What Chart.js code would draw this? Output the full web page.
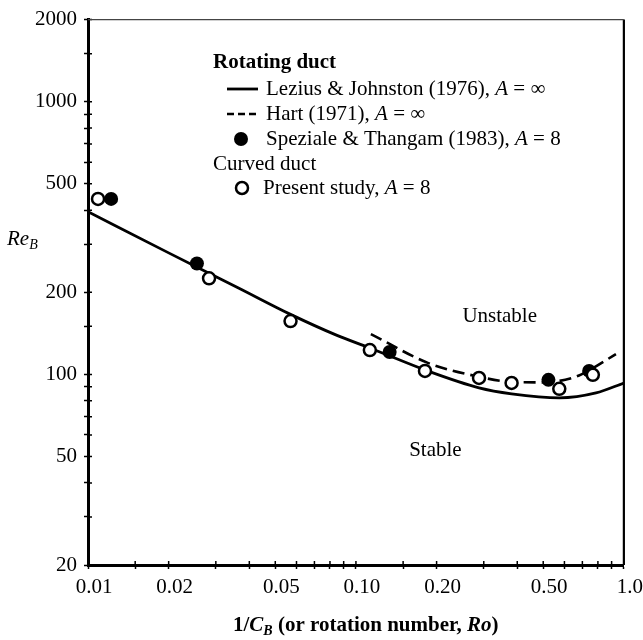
<!DOCTYPE html>
<html>
<head>
<meta charset="utf-8">
<script src="https://cdn.jsdelivr.net/npm/chart.js@4.4.0/dist/chart.umd.min.js"></script>
<style>
  html, body { margin: 0; padding: 0; background: #fff; }
  canvas { display: block; }
</style>
</head>
<body>
<canvas id="stability" width="643" height="640"></canvas>
<script>
'use strict';

// Lezius & Johnston (1976), A = inf  (solid curve)
const leziusRo = [0.01, 0.02, 0.0366, 0.057, 0.085, 0.1127, 0.185, 0.288, 0.381, 0.574, 0.787, 1.0];
const leziusRe = [395, 279, 207, 166, 139, 125, 103, 89.3, 84.9, 82, 85.5, 93];

// Hart (1971), A = inf  (dashed curve)
const hartRo = [0.1137, 0.1864, 0.288, 0.375, 0.5, 0.65, 0.735, 0.934];
const hartRe = [140.6, 110, 98, 94, 93.5, 97.5, 103, 118.7];

// Speziale & Thangam (1983), A = 8  (filled circles)
const spezialeRo = [0.0122, 0.0255, 0.1336, 0.523, 0.742];
const spezialeRe = [440, 255, 120.8, 95.5, 103];

// present study, curved duct, A = 8  (open circles)
const presentRo = [0.0109, 0.0283, 0.057, 0.1127, 0.181, 0.288, 0.381, 0.574, 0.766];
const presentRe = [440, 225, 156.8, 122.8, 103, 97, 93, 88.5, 99.6];

// axis ticks, '' = unlabelled tick
const xTicks = [0.01, 0.015, 0.02, 0.03, 0.04, 0.05, 0.06, 0.07, 0.08, 0.09,
                0.1, 0.15, 0.2, 0.3, 0.4, 0.5, 0.6, 0.7, 0.8, 0.9, 1.0];
const xTickLabels = ['0.01', '', '0.02', '', '', '0.05', '', '', '', '',
                     '0.10', '', '0.20', '', '', '0.50', '', '', '', '', '1.0'];
const yTicks = [20, 30, 40, 50, 60, 70, 80, 90, 100, 150, 200, 300, 400, 500,
                600, 700, 800, 900, 1000, 1500, 2000];
const yTickLabels = ['20', '', '', '50', '', '', '', '', '100', '', '200', '', '', '500',
                     '', '', '', '', '1000', '', '2000'];

const SERIF = '"Liberation Serif", "DejaVu Serif", serif';

function pairs(xs, ys) {
  return xs.map((v, i) => ({ x: v, y: ys[i] }));
}

// draws a line of text made of several font runs
function drawRuns(ctx, x, y, runs) {
  runs.forEach(r => {
    ctx.font = r.font;
    ctx.fillText(r.text, x, y + (r.dy || 0));
    x += ctx.measureText(r.text).width;
  });
  return x;
}

const decorations = {
  id: 'decorations',
  afterDraw(chart) {
    const ctx = chart.ctx;
    const a = chart.chartArea;
    const xs = chart.scales.x;
    const ys = chart.scales.y;
    const ds = chart.data.datasets;
    ctx.save();
    ctx.strokeStyle = '#000';
    ctx.fillStyle = '#000';

    // inner half of the tick marks, so they cross the axes
    ctx.lineWidth = 1.5;
    ctx.beginPath();
    xs.ticks.forEach(t => {
      const px = xs.getPixelForValue(t.value);
      ctx.moveTo(px, a.bottom);
      ctx.lineTo(px, a.bottom - 4);
    });
    ys.ticks.forEach(t => {
      const py = ys.getPixelForValue(t.value);
      ctx.moveTo(a.left, py);
      ctx.lineTo(a.left + 4, py);
    });
    ctx.stroke();

    // frame: right side solid, top thin
    ctx.lineWidth = 2.2;
    ctx.beginPath();
    ctx.moveTo(a.right, a.top);
    ctx.lineTo(a.right, a.bottom);
    ctx.stroke();
    ctx.lineWidth = 1.2;
    ctx.strokeStyle = '#444';
    ctx.beginPath();
    ctx.moveTo(a.left, a.top);
    ctx.lineTo(a.right, a.top);
    ctx.stroke();
    ctx.strokeStyle = '#000';

    // legend
    const normal = '21px ' + SERIF;
    const italic = 'italic 21px ' + SERIF;
    ctx.textBaseline = 'alphabetic';
    ctx.textAlign = 'left';
    drawRuns(ctx, 213, 68, [{ text: 'Rotating duct', font: 'bold 21px ' + SERIF }]);

    ctx.lineWidth = ds[3].borderWidth;
    ctx.beginPath();
    ctx.moveTo(227, 89);
    ctx.lineTo(258, 89);
    ctx.stroke();
    drawRuns(ctx, 266, 95, [
      { text: 'Lezius & Johnston (1976), ', font: normal },
      { text: 'A', font: italic },
      { text: ' = \u221E', font: normal }
    ]);

    ctx.lineWidth = ds[2].borderWidth;
    ctx.setLineDash([7, 4]);
    ctx.beginPath();
    ctx.moveTo(227, 114);
    ctx.lineTo(260, 114);
    ctx.stroke();
    ctx.setLineDash([]);
    drawRuns(ctx, 266, 120, [
      { text: 'Hart (1971), ', font: normal },
      { text: 'A', font: italic },
      { text: ' = \u221E', font: normal }
    ]);

    ctx.beginPath();
    ctx.arc(241, 139, ds[1].pointRadius, 0, Math.PI * 2);
    ctx.fill();
    drawRuns(ctx, 266, 145, [
      { text: 'Speziale & Thangam (1983), ', font: normal },
      { text: 'A', font: italic },
      { text: ' = 8', font: normal }
    ]);

    drawRuns(ctx, 213, 170, [{ text: 'Curved duct', font: normal }]);

    ctx.lineWidth = ds[0].pointBorderWidth;
    ctx.fillStyle = '#fff';
    ctx.beginPath();
    ctx.arc(242, 188, ds[0].pointRadius, 0, Math.PI * 2);
    ctx.fill();
    ctx.stroke();
    ctx.fillStyle = '#000';
    drawRuns(ctx, 263, 194, [
      { text: 'Present study, ', font: normal },
      { text: 'A', font: italic },
      { text: ' = 8', font: normal }
    ]);

    // region labels
    ctx.textAlign = 'center';
    ctx.textBaseline = 'middle';
    ctx.font = normal;
    ctx.fillText('Unstable', xs.getPixelForValue(0.344), ys.getPixelForValue(163.5));
    ctx.fillText('Stable', xs.getPixelForValue(0.198), ys.getPixelForValue(52.6));

    // axis titles
    ctx.textAlign = 'left';
    ctx.textBaseline = 'alphabetic';
    drawRuns(ctx, 7, 245, [
      { text: 'Re', font: 'italic 21px ' + SERIF },
      { text: 'B', font: 'italic 14px ' + SERIF, dy: 4 }
    ]);
    drawRuns(ctx, 233, 631, [
      { text: '1/', font: 'bold 21px ' + SERIF },
      { text: 'C', font: 'bold italic 21px ' + SERIF },
      { text: 'B', font: 'bold italic 14px ' + SERIF, dy: 4 },
      { text: ' (or rotation number, ', font: 'bold 21px ' + SERIF },
      { text: 'Ro', font: 'bold italic 21px ' + SERIF },
      { text: ')', font: 'bold 21px ' + SERIF }
    ]);
    ctx.restore();
  }
};

new Chart(document.getElementById('stability'), {
  type: 'scatter',
  data: {
    datasets: [
      {
        label: 'Present study, A = 8',
        data: pairs(presentRo, presentRe),
        showLine: false,
        pointRadius: 6,
        pointBorderWidth: 2.5,
        pointBackgroundColor: '#fff',
        pointBorderColor: '#000',
        clip: false
      },
      {
        label: 'Speziale & Thangam (1983), A = 8',
        data: pairs(spezialeRo, spezialeRe),
        showLine: false,
        pointRadius: 7,
        pointBorderWidth: 0,
        pointBackgroundColor: '#000',
        pointBorderColor: '#000',
        clip: false
      },
      {
        label: 'Hart (1971), A = inf',
        data: pairs(hartRo, hartRe),
        showLine: true,
        borderColor: '#000',
        borderWidth: 2.6,
        borderDash: [12, 6],
        cubicInterpolationMode: 'monotone',
        pointRadius: 0
      },
      {
        label: 'Lezius & Johnston (1976), A = inf',
        data: pairs(leziusRo, leziusRe),
        showLine: true,
        borderColor: '#000',
        borderWidth: 2.8,
        cubicInterpolationMode: 'monotone',
        pointRadius: 0
      }
    ]
  },
  options: {
    responsive: false,
    animation: false,
    layout: { padding: { top: 17, right: 15, left: 0, bottom: 0 } },
    plugins: {
      legend: { display: false },
      tooltip: { enabled: false }
    },
    scales: {
      x: {
        type: 'logarithmic',
        min: 0.01,
        max: 1.0,
        afterBuildTicks: ax => { ax.ticks = xTicks.map(v => ({ value: v })); },
        afterFit: ax => { ax.height = 75; },
        ticks: {
          autoSkip: false,
          maxRotation: 0,
          padding: 6,
          labelOffset: 6,
          color: '#000',
          font: { family: SERIF, size: 21 },
          callback: (v, i) => xTickLabels[i]
        },
        grid: { drawOnChartArea: false, tickLength: 4, tickWidth: 1.5, tickColor: '#000' },
        border: { color: '#000', width: 3 }
      },
      y: {
        type: 'logarithmic',
        min: 20,
        max: 2000,
        afterBuildTicks: ax => { ax.ticks = yTicks.map(v => ({ value: v })); },
        afterFit: ax => { ax.width = 88; },
        ticks: {
          autoSkip: false,
          padding: 7,
          color: '#000',
          font: { family: SERIF, size: 21 },
          callback: (v, i) => yTickLabels[i]
        },
        grid: { drawOnChartArea: false, tickLength: 4, tickWidth: 1.5, tickColor: '#000' },
        border: { color: '#000', width: 3 }
      }
    }
  },
  plugins: [decorations]
});
</script>
</body>
</html>
